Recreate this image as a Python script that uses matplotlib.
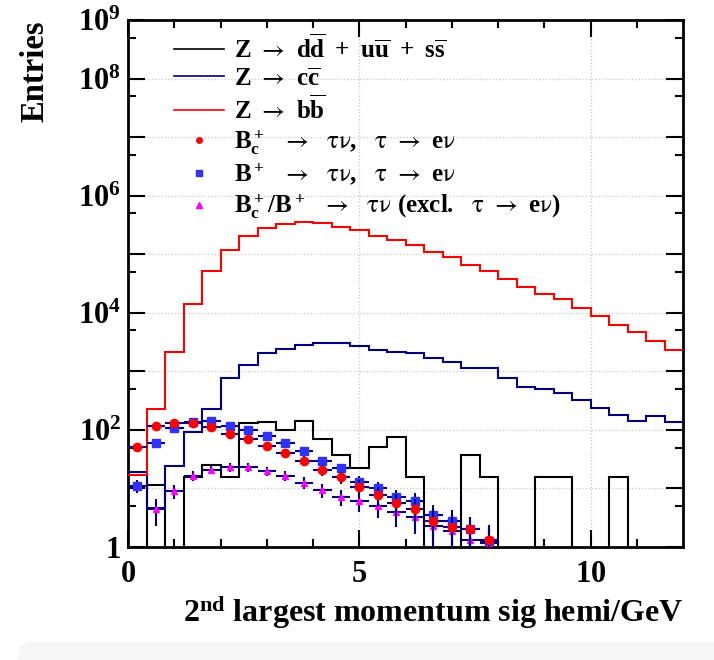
import numpy as np
import matplotlib
matplotlib.use("Agg")
import matplotlib.pyplot as plt
from matplotlib.ticker import FixedLocator, FuncFormatter, NullFormatter
from matplotlib.lines import Line2D
from matplotlib.patches import FancyBboxPatch

# ---------------- data ----------------
bin_edges = np.linspace(0.0, 12.0, 31)  # 30 bins of 0.4 GeV

# Z -> dd + uu + ss  (light quarks)
h_uds = [0, 11.5, 0, 15.5, 25, 15.5, 130, 138, 100, 141, 71, 37, 22, 52, 76, 15.5,
         0, 0, 37, 15.5, 0, 0, 15.5, 15.5, 0, 0, 15.5, 0, 0, 0]
# Z -> cc
h_cc = [19, 4.6, 24.5, 93, 225, 760, 1260, 2090, 2450, 2820, 3020, 3020, 2750, 2340,
        2140, 2090, 1660, 1440, 1150, 1120, 780, 550, 500, 420, 330, 240, 178, 141, 174, 138]
# Z -> bb
h_bb = [17, 230, 2130, 14000, 51000, 117000, 208000, 282000, 330000, 355000, 340000,
        295000, 257000, 208000, 178000, 144000, 110000, 89000, 66000, 52000, 38000,
        28000, 21000, 17000, 12300, 8700, 6300, 4700, 3300, 2350]

# signal points (bin centres of the first 20 bins)
sig_bc = [52, 117, 132, 129, 110, 85, 69, 54, 41, 30, 21, 15.5, 10.7, 7.8, 5.6, 4.5,
          2.8, 2.2, 2.0, 1.3]
err_bc = [6.8, 10, 11, 11, 10, 9, 8, 7, 6, 5.2, 4.4, 3.8, 3.2, 2.7, 2.3, 2.0, 1.6,
          1.4, 1.3, 1.1]
sig_bu = [11.2, 59, 107, 138, 141, 117, 98, 78, 59, 44, 30, 22, 13, 10.2, 7.1, 6.0,
          3.5, 2.8, 2.0, 1.26]
err_bu = [3.0, 7, 9.5, 11, 11, 10, 9, 8, 7, 6, 5, 4.3, 3.3, 2.9, 2.4, 2.2, 1.7, 1.5,
          1.3, 1.0]
sig_ex = [np.nan, 4.5, 9.1, 16.6, 21, 23, 23, 20, 16.6, 12.6, 9.3, 7.2, 6.0, 5.0,
          3.9, 3.2, 2.3, 1.9, 1.3, 1.15]
err_ex = [np.nan, 2.2, 2.4, 3.2, 3.6, 3.8, 3.8, 3.6, 3.2, 2.9, 2.5, 2.2, 2.0, 1.9,
          1.7, 1.5, 1.3, 1.2, 1.0, 0.95]

ARR = r'\ \mathsf{\rightarrow}\ '
TN = r'\mathsf{τν}'
TAU = r'\mathsf{τ}'
NU = r'\mathsf{ν}'
labels = [
    r'$\mathrm{Z' + ARR + r'd\overline{d}\ +\ u\overline{u}\ +\ s\overline{s}}$',
    r'$\mathrm{Z' + ARR + r'c\overline{c}}$',
    r'$\mathrm{Z' + ARR + r'b\overline{b}}$',
    r'$\mathrm{B_c^+\ ' + ARR + r'\ ' + TN + r',\ \ ' + TAU + ARR + r'e' + NU + r'}$',
    r'$\mathrm{B^+\ ' + ARR + r'\ ' + TN + r',\ \ ' + TAU + ARR + r'e' + NU + r'}$',
    r'$\mathrm{B_c^+/B^+\ ' + ARR + r'\ ' + TN + r'\ (excl.\ \ ' + TAU + ARR + r'e'
    + NU + r')}$',
]
ytick_labels = {0: r'$\mathbf{1}$', 2: r'$\mathbf{10^{2}}$', 4: r'$\mathbf{10^{4}}$',
                6: r'$\mathbf{10^{6}}$', 8: r'$\mathbf{10^{8}}$', 9: r'$\mathbf{10^{9}}$'}

# ---------------- style ----------------
plt.rcParams['font.family'] = ['Liberation Serif', 'DejaVu Serif']
plt.rcParams['font.weight'] = 'bold'
plt.rcParams['mathtext.fontset'] = 'custom'
plt.rcParams['mathtext.rm'] = 'Liberation Serif:bold'
plt.rcParams['mathtext.it'] = 'Liberation Serif:bold'
plt.rcParams['mathtext.bf'] = 'Liberation Serif:bold'
plt.rcParams['mathtext.sf'] = 'STIXGeneral:style=normal:weight=normal'
plt.rcParams['mathtext.default'] = 'rm'

NAVY = '#000080'
fig = plt.figure(figsize=(7.14, 6.6), dpi=100)
ax = fig.add_axes([128/714, 1 - 547/660, 555/714, 527/660])

def positive(v):
    v = np.asarray(v, dtype=float)
    return np.where(v > 0, v, 1e-3)

ax.stairs(positive(h_uds), bin_edges, color='black', lw=1.5, baseline=None, zorder=3)
ax.stairs(positive(h_cc), bin_edges, color=NAVY, lw=1.5, baseline=None, zorder=3)
ax.stairs(positive(h_bb), bin_edges, color='red', lw=1.5, baseline=None, zorder=3)

centres = 0.5 * (bin_edges[:-1] + bin_edges[1:])
half_w = 0.5 * (bin_edges[1] - bin_edges[0])
n = len(sig_bc)
ax.errorbar(centres[:n], sig_ex, yerr=err_ex, xerr=half_w, fmt='^', color='#ff00ff',
            ms=5, ecolor=NAVY, elinewidth=1.5, capsize=0, zorder=4)
ax.errorbar(centres[:n], sig_bu, yerr=err_bu, xerr=half_w, fmt='s', color='#3030ff',
            ms=6, ecolor=NAVY, elinewidth=1.5, capsize=0, zorder=5)
ax.errorbar(centres[:n], sig_bc, yerr=err_bc, xerr=half_w, fmt='o', color='#ff0000',
            ms=6, ecolor=NAVY, elinewidth=1.5, capsize=0, zorder=6)

ax.set_yscale('log')
ax.set_xlim(0, 12)
ax.set_ylim(1, 1e9)

ax.xaxis.set_major_locator(FixedLocator([0, 5, 10]))
ax.xaxis.set_minor_locator(FixedLocator([1, 2, 3, 4, 6, 7, 8, 9, 11]))
ax.set_xticklabels([r'$\mathbf{0}$', r'$\mathbf{5}$', r'$\mathbf{10}$'])
ax.yaxis.set_major_locator(FixedLocator([10.0**k for k in range(10)]))
ax.yaxis.set_minor_locator(FixedLocator([5 * 10.0**k for k in range(9)]))
ax.yaxis.set_major_formatter(FuncFormatter(
    lambda v, p: ytick_labels.get(int(round(np.log10(v))), '')))
ax.yaxis.set_minor_formatter(NullFormatter())

ax.tick_params(which='both', direction='in', top=True, right=True, width=1.5,
               colors='black')
ax.tick_params(which='major', length=12)
ax.tick_params(which='minor', length=6)
ax.tick_params(axis='x', which='major', labelsize=22, pad=9)
ax.tick_params(axis='y', which='major', labelsize=22, pad=5)
for s in ax.spines.values():
    s.set_linewidth(2)

ax.grid(True, which='major', axis='both', linestyle=':', color='#c8c8c8', lw=0.9)
ax.set_axisbelow(True)

ax.set_xlabel(r'$\mathrm{2^{nd}}$ largest momentum sig hemi/GeV', fontsize=23,
              fontweight='bold', loc='right', labelpad=4)
ax.set_ylabel('Entries', fontsize=23.5, fontweight='bold', loc='top', labelpad=20)

handles = [
    Line2D([], [], color='black', lw=1.2),
    Line2D([], [], color=NAVY, lw=1.2),
    Line2D([], [], color='red', lw=1.2),
    Line2D([], [], color='red', marker='o', ls='none', ms=4),
    Line2D([], [], color='#3030ff', marker='s', ls='none', ms=4),
    Line2D([], [], color='#ff00ff', marker='^', ls='none', ms=4),
]
leg = ax.legend(handles, labels, loc='upper left', bbox_to_anchor=(0.052, 1.007),
                frameon=False, fontsize=18, handlelength=2.0, handletextpad=0.4,
                labelspacing=0.18, borderpad=0.2)

fig.patches.append(FancyBboxPatch((0.025, -0.05), 1.0, 0.05 + 18/660,
                                  boxstyle='round,pad=0,rounding_size=0.02',
                                  transform=fig.transFigure, facecolor='#f6f6f6',
                                  edgecolor='none', zorder=-1))

fig.savefig('out.png', dpi=100)
